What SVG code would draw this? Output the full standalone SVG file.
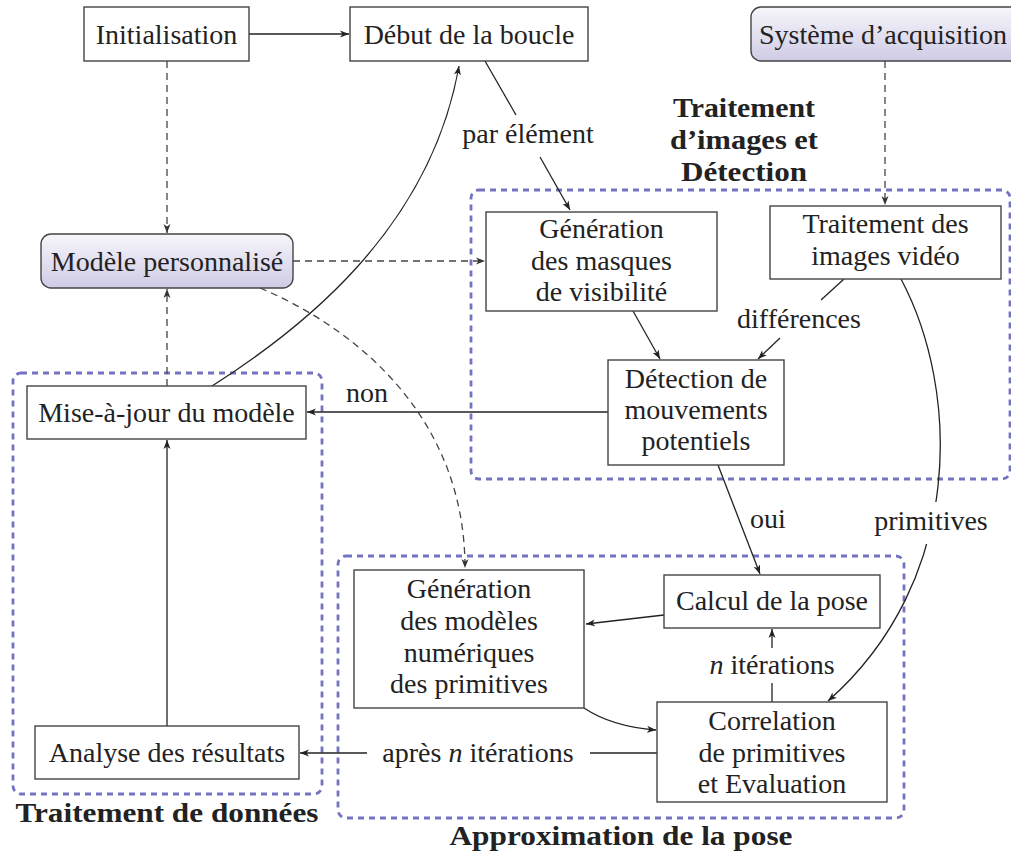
<svg xmlns="http://www.w3.org/2000/svg" width="1011" height="854" viewBox="0 0 1011 854">
<defs>
<linearGradient id="lav" x1="0" y1="0" x2="0" y2="1">
<stop offset="0" stop-color="#f6f6fb"/>
<stop offset="1" stop-color="#cfcbe5"/>
</linearGradient>
<marker id="ah" markerWidth="10" markerHeight="8" refX="9" refY="4" orient="auto" markerUnits="userSpaceOnUse">
<path d="M0,0.5 L9,4 L0,7.5 L2.5,4 Z" fill="#222"/>
</marker>
<marker id="ahg" markerWidth="10" markerHeight="8" refX="9" refY="4" orient="auto" markerUnits="userSpaceOnUse">
<path d="M0,0.5 L9,4 L0,7.5 L2.5,4 Z" fill="#333"/>
</marker>
</defs>
<style>
text{font-family:"Liberation Serif","Times New Roman",serif;font-size:28px;fill:#222;}
.c{text-anchor:middle;}
.b{font-weight:bold;font-size:27px;}
.box{fill:#fff;stroke:#444;stroke-width:1.4;}
.rbox{fill:url(#lav);stroke:#444;stroke-width:1.4;}
.grp{fill:none;stroke:#7373c2;stroke-width:2.8;stroke-dasharray:6 5;}
.e{fill:none;stroke:#222;stroke-width:1.3;}
.d{fill:none;stroke:#444;stroke-width:1.3;stroke-dasharray:7 5;}
.lbg{fill:#fff;}
</style>

<g id="groups">
<rect id="grp-donnees" class="grp" x="13" y="373" width="309" height="421" rx="8"/>
<rect id="grp-detection" class="grp" x="471" y="190" width="539" height="289" rx="8"/>
<rect id="grp-approx" class="grp" x="338" y="556" width="566" height="262" rx="8"/>
<text class="b c" x="167" y="822" textLength="303" lengthAdjust="spacingAndGlyphs">Traitement de données</text>
<text class="b c" x="621" y="845" textLength="343" lengthAdjust="spacingAndGlyphs">Approximation de la pose</text>
<text class="b c" x="744" y="117" textLength="142" lengthAdjust="spacingAndGlyphs">Traitement</text>
<text class="b c" x="744" y="149" textLength="148" lengthAdjust="spacingAndGlyphs">d’images et</text>
<text class="b c" x="744" y="181" textLength="126" lengthAdjust="spacingAndGlyphs">Détection</text>
</g>

<g id="connectors">
<line class="e" x1="249" y1="34" x2="349" y2="34" marker-end="url(#ah)"/>
<line class="d" x1="167" y1="61" x2="167" y2="233" marker-end="url(#ahg)"/>
<line class="d" x1="885" y1="61" x2="885" y2="205" marker-end="url(#ahg)"/>
<line class="d" x1="293" y1="261" x2="485" y2="261" marker-end="url(#ahg)"/>
<line class="d" x1="167" y1="386" x2="167" y2="289" marker-end="url(#ahg)"/>
<path class="d" d="M260,288 C360,330 465,420 465,568" marker-end="url(#ahg)"/>
<path class="e" d="M212,386 C300,330 430,230 459,66" marker-end="url(#ah)"/>
<line class="e" x1="485" y1="61" x2="516" y2="115"/>
<line class="e" x1="540" y1="157" x2="570" y2="210" marker-end="url(#ah)"/>
<text class="c" x="528" y="143">par élément</text>
<line class="e" x1="633" y1="311" x2="660" y2="359" marker-end="url(#ah)"/>
<line class="e" x1="844" y1="279" x2="821" y2="300"/>
<line class="e" x1="780" y1="338" x2="758" y2="359" marker-end="url(#ah)"/>
<text class="c" x="799" y="328">différences</text>
<line class="e" x1="608" y1="412" x2="307" y2="412" marker-end="url(#ah)"/>
<text class="c" x="367" y="402">non</text>
<line class="e" x1="718" y1="465" x2="760" y2="574" marker-end="url(#ah)"/>
<text x="750" y="528">oui</text>
<path class="e" d="M901,279 C960,390 965,580 828,701" marker-end="url(#ah)"/>
<rect class="lbg" x="872" y="502" width="118" height="42"/>
<text class="c" x="931" y="530">primitives</text>
<line class="e" x1="664" y1="615" x2="586" y2="624" marker-end="url(#ah)"/>
<path class="e" d="M584,708 C605,722 630,728 656,730" marker-end="url(#ah)"/>
<line class="e" x1="772" y1="702" x2="772" y2="683"/>
<line class="e" x1="772" y1="648" x2="772" y2="629" marker-end="url(#ah)"/>
<text class="c" x="772" y="674"><tspan font-style="italic">n</tspan> itérations</text>
<line class="e" x1="657" y1="753" x2="590" y2="753"/>
<line class="e" x1="367" y1="753" x2="300" y2="753" marker-end="url(#ah)"/>
<text class="c" x="478" y="762">après <tspan font-style="italic">n</tspan> itérations</text>
<line class="e" x1="167" y1="726" x2="167" y2="440" marker-end="url(#ah)"/>
</g>

<g id="n-init"><rect class="box" x="84" y="7" width="165" height="54"/><text class="c" x="166.5" y="44">Initialisation</text></g>
<g id="n-debut"><rect class="box" x="350" y="7" width="238" height="54"/><text class="c" x="469" y="44">Début de la boucle</text></g>
<g id="n-systeme"><rect class="rbox" x="751" y="7" width="290" height="54" rx="10"/><text x="759" y="44">Système d’acquisition</text></g>
<g id="n-modele"><rect class="rbox" x="41" y="234" width="252" height="54" rx="10"/><text class="c" x="167" y="271">Modèle personnalisé</text></g>
<g id="n-maj"><rect class="box" x="27" y="386" width="279" height="53"/><text class="c" x="166.5" y="422">Mise-à-jour du modèle</text></g>
<g id="n-analyse"><rect class="box" x="35" y="726" width="264" height="53"/><text class="c" x="167" y="762">Analyse des résultats</text></g>
<g id="n-masques"><rect class="box" x="486" y="212" width="231" height="99"/>
<text class="c" x="601.5" y="238">Génération</text><text class="c" x="601.5" y="269.5">des masques</text><text class="c" x="601.5" y="301">de visibilité</text></g>
<g id="n-traitement"><rect class="box" x="770" y="206" width="231" height="73"/>
<text class="c" x="885.5" y="233">Traitement des</text><text class="c" x="885.5" y="265">images vidéo</text></g>
<g id="n-detection"><rect class="box" x="608" y="360" width="176" height="105"/>
<text class="c" x="696" y="388">Détection de</text><text class="c" x="696" y="419">mouvements</text><text class="c" x="696" y="450">potentiels</text></g>
<g id="n-modeles"><rect class="box" x="354" y="570" width="230" height="138"/>
<text class="c" x="469" y="598">Génération</text><text class="c" x="469" y="630">des modèles</text><text class="c" x="469" y="662">numériques</text><text class="c" x="469" y="693">des primitives</text></g>
<g id="n-calcul"><rect class="box" x="664" y="575" width="216" height="53"/><text class="c" x="772" y="610">Calcul de la pose</text></g>
<g id="n-correlation"><rect class="box" x="657" y="702" width="230" height="100"/>
<text class="c" x="772" y="730">Correlation</text><text class="c" x="772" y="762">de primitives</text><text class="c" x="772" y="793">et Evaluation</text></g>
</svg>
